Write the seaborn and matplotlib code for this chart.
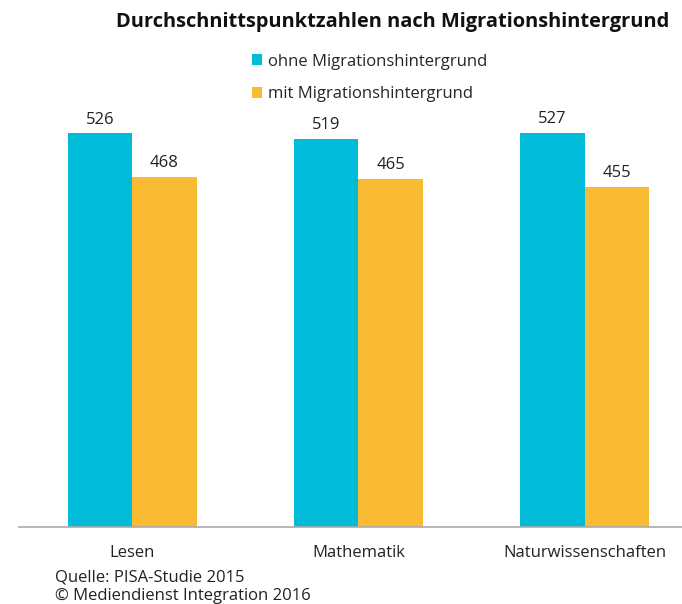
import pandas as pd
import matplotlib
matplotlib.use('Agg')
import matplotlib.pyplot as plt
import seaborn as sns

# Data
faecher = ['Lesen', 'Mathematik', 'Naturwissenschaften']
ohne_migration = [526, 519, 527]
mit_migration = [468, 465, 455]
gruppen = ['ohne Migrationshintergrund', 'mit Migrationshintergrund']
farben = ['#00BCD8', '#F9BB33']

df = pd.DataFrame({
    'fach': faecher * 2,
    'punkte': ohne_migration + mit_migration,
    'gruppe': [gruppen[0]] * 3 + [gruppen[1]] * 3,
})

sns.set_theme(style='white')
plt.rcParams['font.family'] = ['Open Sans', 'DejaVu Sans']

W, H = 682, 604
fig = plt.figure(figsize=(W / 100, H / 100), dpi=100)
# axes placed in pixel terms: baseline at y=527, left edge at x=19
ax = fig.add_axes([19 / W, (H - 527) / H, 1 - 19 / W, 449 / H])

sns.barplot(data=df, x='fach', y='punkte', hue='gruppe', palette=farben,
            width=0.57, saturation=1, linewidth=0, ax=ax, legend=True)

for cont in ax.containers:
    ax.bar_label(cont, padding=4, fontsize=12, color='#222222')

ax.set_ylim(0, 600)
ax.set_xlim(-0.5, 2.43)
ax.set_xlabel('')
ax.set_ylabel('')
ax.set_yticks([])
ax.tick_params(axis='x', length=0, pad=13, labelsize=12, labelcolor='#222222')
for s in ['top', 'left', 'right']:
    ax.spines[s].set_visible(False)
ax.spines['bottom'].set_color('#aaaaaa')
ax.spines['bottom'].set_linewidth(1.2)

handles, labels = ax.get_legend_handles_labels()
ax.get_legend().remove()
fig.legend(handles, labels, loc='upper left', bbox_to_anchor=(245 / W, 1 - 47 / H),
           frameon=False, fontsize=12, handlelength=0.6, handleheight=0.6,
           handletextpad=0.35, labelspacing=1.0, borderaxespad=0)

fig.text(393 / W, 1 - 22 / H, 'Durchschnittspunktzahlen nach Migrationshintergrund',
         ha='center', va='center', fontsize=14.4, fontweight='bold', color='#111111')

fig.text(55 / W, 1 - 578 / H, 'Quelle: PISA-Studie 2015', ha='left', va='center',
         fontsize=12, color='#222222')
fig.text(55 / W, 1 - 596 / H, '\u00a9 Mediendienst Integration 2016', ha='left', va='center',
         fontsize=12, color='#222222')

fig.savefig('out.png', dpi=100)
